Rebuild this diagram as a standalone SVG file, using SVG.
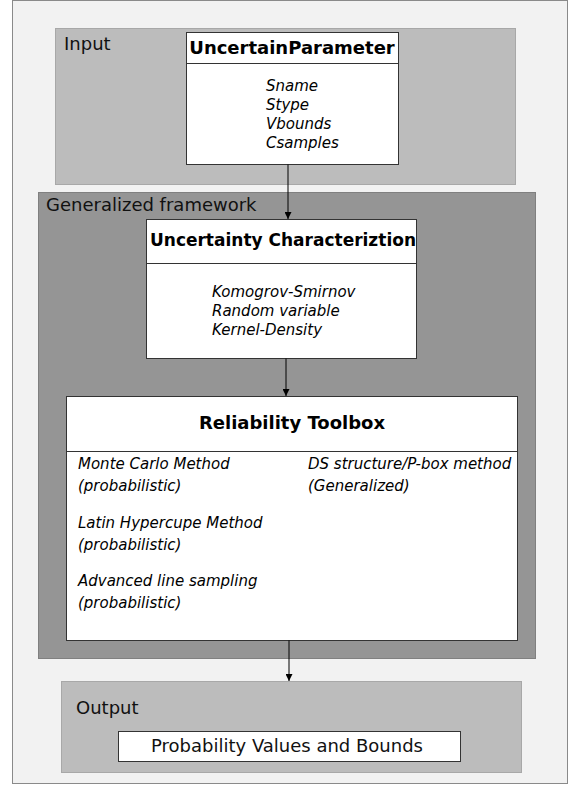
<svg xmlns="http://www.w3.org/2000/svg" width="577" height="785" viewBox="0 0 577 785">
<defs>
<style>
text{font-family:"DejaVu Sans","Verdana",sans-serif;fill:#000}
.lbl{font-size:18px;fill:#111}
.hdr{font-size:17px;font-weight:bold;text-anchor:middle}
.it{font-size:15px;font-style:italic}
.box{fill:#fff;stroke:#333;stroke-width:1}
.conn{stroke:#000;stroke-width:1;fill:none;marker-end:url(#ah)}
</style>
<marker id="ah" viewBox="0 0 10 10" refX="10" refY="5" markerWidth="8" markerHeight="7" markerUnits="userSpaceOnUse" orient="auto">
<path d="M0,0 L10,5 L0,10 z" fill="#000"/>
</marker>
</defs>
<rect x="0" y="0" width="577" height="785" fill="#fff"/>
<rect id="frame" x="12.5" y="0.5" width="555" height="783" fill="#f2f2f2" stroke="#8a8a8a"/>
<g id="input">
<rect x="55.5" y="28.5" width="460" height="156" fill="#bcbcbc" stroke="#a8a8a8"/>
<text class="lbl" x="64" y="50">Input</text>
</g>
<g id="framework">
<rect x="38.5" y="192.5" width="497" height="466" fill="#959595" stroke="#808080"/>
<text class="lbl" x="46" y="211">Generalized framework</text>
</g>
<g id="output">
<rect x="61.5" y="681.5" width="460" height="91" fill="#bcbcbc" stroke="#a8a8a8"/>
<text class="lbl" x="76" y="714">Output</text>
</g>
<g id="uncertainParameter">
<rect class="box" x="186.5" y="32.5" width="212" height="132"/>
<line x1="186.5" y1="63.5" x2="398.5" y2="63.5" stroke="#333"/>
<text class="hdr" x="292" y="54" style="font-size:18px">UncertainParameter</text>
<text class="it" x="266" y="91">Sname</text>
<text class="it" x="266" y="110">Stype</text>
<text class="it" x="266" y="129">Vbounds</text>
<text class="it" x="266" y="148">Csamples</text>
</g>
<g id="uncertaintyCharacterization">
<rect class="box" x="146.5" y="219.5" width="270" height="139"/>
<line x1="146.5" y1="263.5" x2="416.5" y2="263.5" stroke="#333"/>
<text class="hdr" x="283" y="246">Uncertainty Characteriztion</text>
<text class="it" x="212" y="297">Komogrov-Smirnov</text>
<text class="it" x="212" y="316">Random variable</text>
<text class="it" x="212" y="335">Kernel-Density</text>
</g>
<g id="reliabilityToolbox">
<rect class="box" x="66.5" y="396.5" width="451" height="244"/>
<line x1="66.5" y1="451.5" x2="517.5" y2="451.5" stroke="#333"/>
<text class="hdr" x="292" y="429" style="font-size:18px">Reliability Toolbox</text>
<text class="it" x="78" y="469">Monte Carlo Method</text>
<text class="it" x="78" y="491">(probabilistic)</text>
<text class="it" x="78" y="528">Latin Hypercupe Method</text>
<text class="it" x="78" y="550">(probabilistic)</text>
<text class="it" x="78" y="586">Advanced line sampling</text>
<text class="it" x="78" y="608">(probabilistic)</text>
<text class="it" x="308" y="469">DS structure/P-box method</text>
<text class="it" x="308" y="491">(Generalized)</text>
</g>
<g id="probabilityValues">
<rect class="box" x="118.5" y="731.5" width="342" height="30"/>
<text class="lbl" x="287" y="752" text-anchor="middle">Probability Values and Bounds</text>
</g>
<g id="connectors">
<line class="conn" x1="288" y1="164.5" x2="288" y2="219"/>
<line class="conn" x1="286" y1="358.5" x2="286" y2="396"/>
<line class="conn" x1="289" y1="640.5" x2="289" y2="681"/>
</g>
</svg>
